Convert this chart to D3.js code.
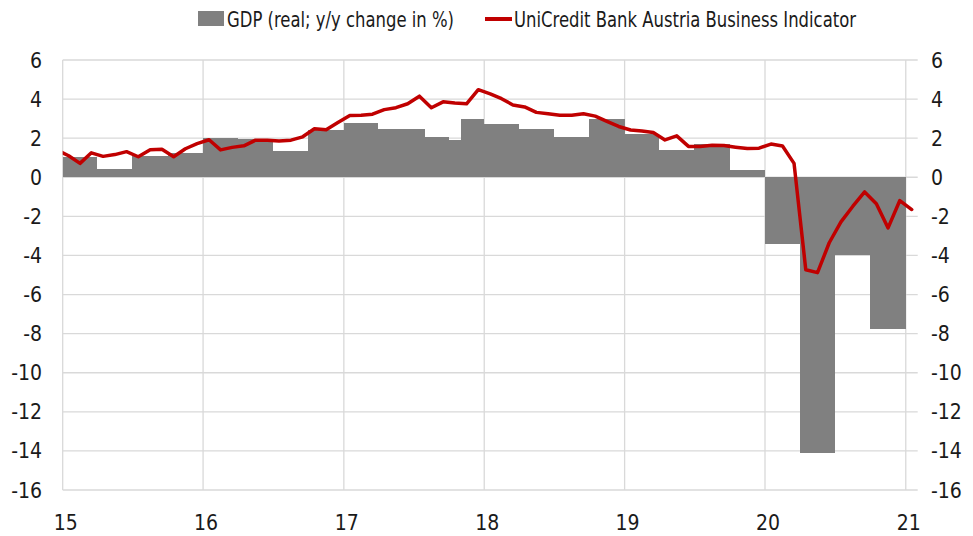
<!DOCTYPE html>
<html>
<head>
<meta charset="utf-8">
<script src="https://cdn.jsdelivr.net/npm/d3@7"></script>
<style>
  body { margin: 0; background: #fff; }
  text { font-family: "Liberation Sans Narrow", "DejaVu Sans Condensed", "Roboto Condensed", sans-serif; fill: #1a1a1a; }
</style>
</head>
<body>
<script>
// GDP (real; y/y change in %), each block runs from its start month to the next start
var gdpStart = ["2015-01","2015-04","2015-07","2015-10","2016-01","2016-04","2016-07","2016-10",
  "2017-01","2017-04","2017-08","2017-10","2017-11","2018-01","2018-04","2018-07","2018-10",
  "2019-01","2019-04","2019-07","2019-10","2020-01","2020-04","2020-07","2020-10"]
var gdpValues = [1.05,0.42,1.1,1.25, 2.0,1.95,1.36,2.42,
  2.76,2.45,2.06,1.9,3.0, 2.72,2.45,2.06,3.0,
  2.2,1.38,1.72,0.36, -3.4,-14.1,-4.0,-7.76]
var gdpLastEnd = "2021-01"

// UniCredit Bank Austria Business Indicator, monthly from Dec 2014 to Jan 2021
var indicatorFirstMonth = "2014-12"
var indicatorValues = [1.40,
  1.10,0.71,1.25,1.07,1.16,1.31,1.05,1.41,1.43,1.05,1.46,1.72,
  1.92,1.40,1.53,1.61,1.90,1.90,1.86,1.90,2.07,2.48,2.43,2.80,
  3.16,3.17,3.23,3.46,3.56,3.76,4.15,3.56,3.86,3.80,3.76,4.48,
  4.27,4.02,3.70,3.60,3.32,3.25,3.17,3.17,3.25,3.13,2.86,2.60,
  2.42,2.37,2.29,1.91,2.12,1.58,1.58,1.64,1.62,1.54,1.47,1.49,
  1.70,1.60,0.71,-4.73,-4.88,-3.35,-2.28,-1.48,-0.75,-1.35,-2.59,-1.19,
  -1.65]

var yTicks = [-16,-14,-12,-10,-8,-6,-4,-2,0,2,4,6]
var xTickLabels = ["15","16","17","18","19","20","21"]

var width = 973
var height = 536
var margin = {top: 60, right: 55.3, bottom: 46, left: 62.7}

var parseMonth = d3.timeParse("%Y-%m")

var svg = d3.select("body")
  .append("svg")
    .attr("width", width)
    .attr("height", height)

var x = d3.scaleTime()
  .domain([parseMonth("2015-01"), parseMonth("2021-02")])
  .range([margin.left, width - margin.right])

var y = d3.scaleLinear()
  .domain([-16, 6])
  .range([height - margin.bottom, margin.top])

svg.append("clipPath")
    .attr("id", "plot-clip")
  .append("rect")
    .attr("x", margin.left)
    .attr("y", margin.top - 10)
    .attr("width", width - margin.left - margin.right)
    .attr("height", height - margin.top - margin.bottom + 20)

// horizontal grid
svg.append("g")
  .selectAll("line")
  .data(yTicks)
  .enter()
  .append("line")
    .attr("x1", margin.left)
    .attr("x2", width - margin.right)
    .attr("y1", function(d){ return y(d) })
    .attr("y2", function(d){ return y(d) })
    .attr("stroke", "#d9d9d9")
    .attr("stroke-width", 1.3)

// vertical grid, one per year
var yearDates = xTickLabels.map(function(l){ return parseMonth("20" + l + "-01") })
svg.append("g")
  .selectAll("line")
  .data(yearDates)
  .enter()
  .append("line")
    .attr("x1", function(d){ return x(d) })
    .attr("x2", function(d){ return x(d) })
    .attr("y1", margin.top)
    .attr("y2", height - margin.bottom)
    .attr("stroke", "#d9d9d9")
    .attr("stroke-width", 1.3)

// GDP blocks
var gdp = gdpStart.map(function(s, i){
  return {
    start: parseMonth(s),
    end: parseMonth(i < gdpStart.length - 1 ? gdpStart[i + 1] : gdpLastEnd),
    value: gdpValues[i]
  }
})
svg.append("g")
  .selectAll("rect")
  .data(gdp)
  .enter()
  .append("rect")
    .attr("x", function(d){ return x(d.start) })
    .attr("width", function(d){ return x(d.end) - x(d.start) })
    .attr("y", function(d){ return y(Math.max(0, d.value)) })
    .attr("height", function(d){ return Math.abs(y(d.value) - y(0)) })
    .attr("fill", "#808080")
    .attr("shape-rendering", "crispEdges")

// indicator line, points at mid month
var firstMonth = parseMonth(indicatorFirstMonth)
var indicator = indicatorValues.map(function(v, i){
  var m0 = d3.timeMonth.offset(firstMonth, i)
  var m1 = d3.timeMonth.offset(firstMonth, i + 1)
  return {px: (x(m0) + x(m1)) / 2, value: v}
})
var line = d3.line()
  .x(function(d){ return d.px })
  .y(function(d){ return y(d.value) })

svg.append("path")
  .datum(indicator)
  .attr("clip-path", "url(#plot-clip)")
  .attr("d", line)
  .attr("fill", "none")
  .attr("stroke", "#c00000")
  .attr("stroke-width", 3.5)
  .attr("stroke-linejoin", "round")
  .attr("stroke-linecap", "round")

// axes labels
svg.append("g")
  .selectAll("text")
  .data(yTicks)
  .enter()
  .append("text")
    .attr("x", 42)
    .attr("y", function(d){ return y(d) })
    .attr("dy", "0.36em")
    .attr("text-anchor", "end")
    .style("font-size", "21px")
    .text(function(d){ return d })

svg.append("g")
  .selectAll("text")
  .data(yTicks)
  .enter()
  .append("text")
    .attr("x", 931)
    .attr("y", function(d){ return y(d) })
    .attr("dy", "0.36em")
    .attr("text-anchor", "start")
    .style("font-size", "21px")
    .text(function(d){ return d })

svg.append("g")
  .selectAll("text")
  .data(xTickLabels)
  .enter()
  .append("text")
    .attr("x", function(d, i){ return x(yearDates[i]) + 3 })
    .attr("y", 530)
    .attr("text-anchor", "middle")
    .style("font-size", "21px")
    .text(function(d){ return d })

// legend
var legend = svg.append("g")
legend.append("rect")
  .attr("x", 198).attr("y", 11)
  .attr("width", 26).attr("height", 15)
  .attr("fill", "#808080")
legend.append("text")
  .attr("x", 227).attr("y", 19)
  .attr("dy", "0.36em")
  .attr("textLength", 227)
  .attr("lengthAdjust", "spacingAndGlyphs")
  .style("font-size", "21px")
  .text("GDP (real; y/y change in %)")
legend.append("line")
  .attr("x1", 485).attr("x2", 512)
  .attr("y1", 19).attr("y2", 19)
  .attr("stroke", "#c00000")
  .attr("stroke-width", 4)
legend.append("text")
  .attr("x", 514).attr("y", 19)
  .attr("dy", "0.36em")
  .attr("textLength", 342)
  .attr("lengthAdjust", "spacingAndGlyphs")
  .style("font-size", "21px")
  .text("UniCredit Bank Austria Business Indicator")
</script>
</body>
</html>
